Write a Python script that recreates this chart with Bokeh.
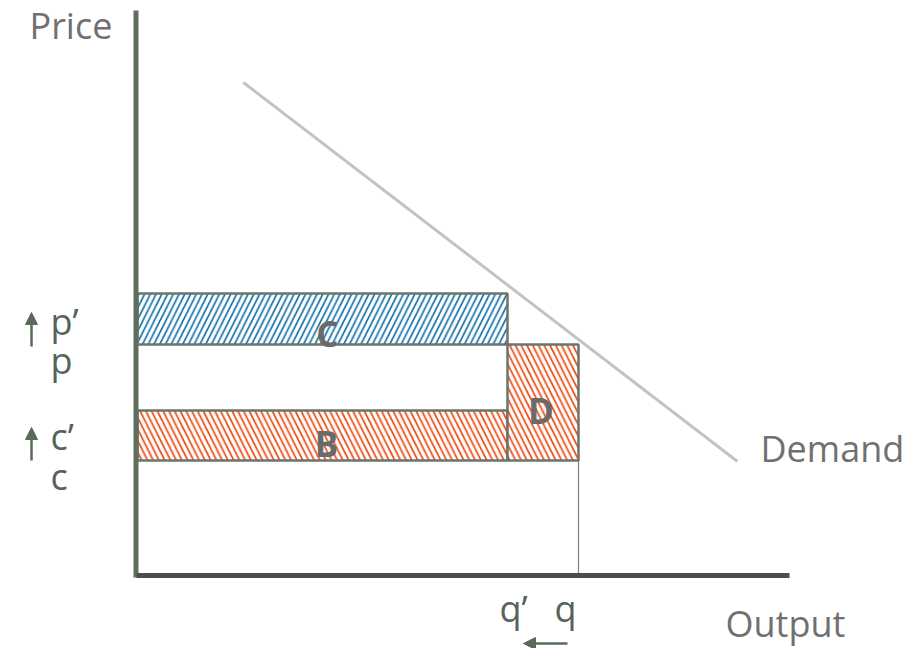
from bokeh.plotting import figure
from bokeh.models import Range1d, Arrow, NormalHead
from bokeh.core.properties import value
from bokeh.embed import file_html
from bokeh.resources import INLINE

# ---- data (economic quantities, chart units) ----
q_prime = 370
q = 441
c = 116
c_prime = 166
p_ = 232
p_prime = 283
demand_x = [106, 600]
demand_y = [494, 115]
x_axis_end = 652
y_axis_top = 566

area_names = ["C", "B", "D"]
area_left = [0, 0, q_prime]
area_right = [q_prime, q_prime, q]
area_bottom = [p_, c, c]
area_top = [p_prime, c_prime, p_]

y_tick_labels = ["p\u2019", "p", "c\u2019", "c"]
x_tick_labels = ["q\u2019", "q"]

FONT = value("Open Sans")
GRAY_TXT = "#707070"
GREEN_TXT = "#56635a"
BL = 14  # baseline compensation
FS = "36px"

p = figure(width=921, height=648, output_backend="svg", toolbar_location=None,
           x_range=Range1d(-137, 784), y_range=Range1d(-72, 576),
           min_border=0, outline_line_color=None)
p.axis.visible = False
p.grid.visible = False
p.background_fill_color = "white"

# q drop line
p.segment(x0=[q], y0=[c], x1=[q], y1=[0], line_color="#808080", line_width=1.2)

# demand curve
p.line(demand_x, demand_y, line_color="#c3c3c3", line_width=3)

# hatched areas
hatch_colors = ["#1570a8", "#f04a12", "#f04a12"]
hatch_patterns = ["right_diagonal_line", "left_diagonal_line", "left_diagonal_line"]
for i in range(3):
    p.quad(left=[area_left[i]], right=[area_right[i]], bottom=[area_bottom[i]], top=[area_top[i]],
           fill_color="white", hatch_pattern=hatch_patterns[i], hatch_color=hatch_colors[i],
           hatch_scale=11.5, hatch_weight=1.7, line_color="#6b756b", line_width=2.5)

# axes
p.segment(x0=[-1.5], y0=[-1], x1=[-1.5], y1=[y_axis_top], line_color="#5f6e5f", line_width=5, line_cap="butt")
p.segment(x0=[-1], y0=[1], x1=[x_axis_end], y1=[1], line_color="#4d4d4d", line_width=5, line_cap="butt")

# area letters
area_lx = [(area_left[0] + area_right[0]) / 2 + 5, (area_left[1] + area_right[1]) / 2 + 4,
           (area_left[2] + area_right[2]) / 2 - 2]
area_ly = [243, 133, 166]
p.text(x=area_lx, y=area_ly, text=area_names, text_font=FONT, text_font_style="bold",
       text_font_size="35px", text_color="#6a6a6a", text_align="center", text_baseline="middle")

# axis titles
p.text(x=[-108], y=[541 + BL - 4], text=["Price"], text_font=FONT, text_font_size=FS,
       text_color=GRAY_TXT, text_baseline="alphabetic")
p.text(x=[623], y=[114 + BL], text=["Demand"], text_font=FONT, text_font_size=FS,
       text_color=GRAY_TXT, text_baseline="alphabetic")
p.text(x=[588], y=[-61 + BL], text=["Output"], text_font=FONT, text_font_size=FS,
       text_color=GRAY_TXT, text_baseline="alphabetic")

# y tick labels
p.text(x=[-87] * 4, y=[p_prime - 42 + BL, p_ - 30 + BL, c_prime - 40 + BL, c - 30 + BL], text=y_tick_labels,
       text_font=FONT, text_font_size=FS, text_color=GREEN_TXT, text_baseline="alphabetic")
# x tick labels
p.text(x=[q_prime - 8, q - 24], y=[-46 + BL, -46 + BL], text=x_tick_labels,
       text_font=FONT, text_font_size=FS, text_color=GREEN_TXT, text_baseline="alphabetic")

# arrows
arrow_col = "#5a6b5a"
for (x0, y0, x1, y1) in [(-106, p_ - 2, -106, p_ + 32), (-106, c, -106, c + 33),
                         (q - 11, -67, q - 55, -67)]:
    p.add_layout(Arrow(end=NormalHead(size=12, fill_color=arrow_col, line_color=arrow_col),
                       x_start=x0, y_start=y0, x_end=x1, y_end=y1,
                       line_color=arrow_col, line_width=2.5))

open("out.html", "w").write(file_html(p, INLINE))
